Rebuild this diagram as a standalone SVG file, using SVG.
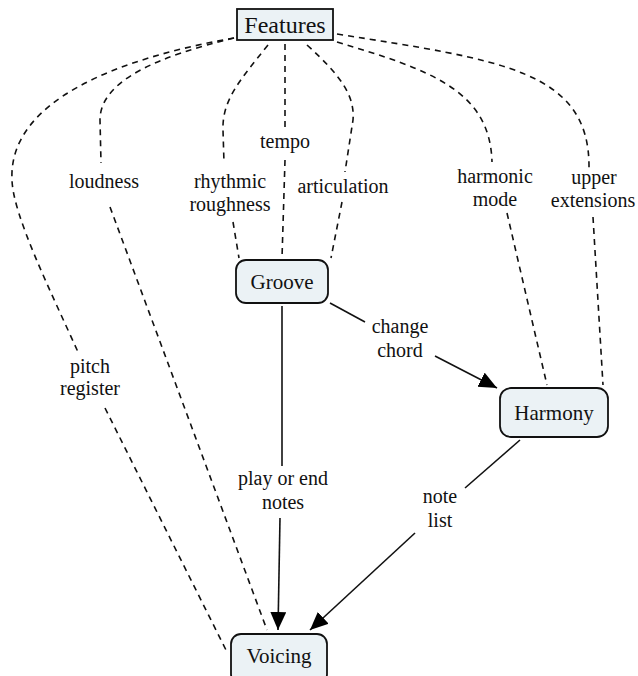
<svg xmlns="http://www.w3.org/2000/svg" width="638" height="676" viewBox="0 0 638 676">
<style>
.lbl{font-family:"Liberation Serif","Times New Roman",serif;font-size:20px;fill:#111;text-anchor:middle}
.nt{font-family:"Liberation Serif","Times New Roman",serif;font-size:21px;fill:#111;text-anchor:middle}
.node{fill:#ebf2f5;stroke:#111;stroke-width:1.8}
.dash{fill:none;stroke:#111;stroke-width:1.6;stroke-dasharray:6 5}
.solid{fill:none;stroke:#111;stroke-width:1.6}
</style>
<defs>
<marker id="ah" markerWidth="20" markerHeight="18" refX="18" refY="8" orient="auto" markerUnits="userSpaceOnUse">
<path d="M0,0 L18,8 L0,16 z" fill="#000"/>
</marker>
</defs>
<rect width="638" height="676" fill="#fff"/>
<g id="connectors">
<path class="dash" d="M234,38 C120,58 8,100 12,180 C13,215 50,290 78,352"/>
<path class="dash" d="M105,408 L226,650"/>
<path class="dash" d="M234,38 C160,56 100,80 100,120 L101,163"/>
<path class="dash" d="M110,207 L267,630"/>
<path class="dash" d="M268,45 C240,80 222,100 223,130 L224,163"/>
<path class="dash" d="M233,222 L239,258"/>
<path class="dash" d="M285,44 L285,130"/>
<path class="dash" d="M285,160 L282,258"/>
<path class="dash" d="M307,45 C340,75 355,95 353,120 L345,172"/>
<path class="dash" d="M342,202 L331,258"/>
<path class="dash" d="M337,42 C430,70 490,90 492,162"/>
<path class="dash" d="M507,213 L547,385"/>
<path class="dash" d="M337,34 C500,60 590,70 589,168"/>
<path class="dash" d="M593,217 L603,385"/>
<path class="solid" d="M330,303 L365,322"/>
<path class="solid" d="M435,356 L497,388" marker-end="url(#ah)"/>
<path class="solid" d="M282,306 L282,466"/>
<path class="solid" d="M280,518 L278,630" marker-end="url(#ah)"/>
<path class="solid" d="M520,440 L465,488"/>
<path class="solid" d="M415,533 L310,630" marker-end="url(#ah)"/>
<text class="lbl" x="90" y="373">pitch</text>
<text class="lbl" x="90" y="395">register</text>
<text class="lbl" x="104" y="188">loudness</text>
<text class="lbl" x="230" y="188">rhythmic</text>
<text class="lbl" x="230" y="211">roughness</text>
<text class="lbl" x="285" y="148">tempo</text>
<text class="lbl" x="343" y="193">articulation</text>
<text class="lbl" x="495" y="183">harmonic</text>
<text class="lbl" x="495" y="206">mode</text>
<text class="lbl" x="594" y="184">upper</text>
<text class="lbl" x="593" y="207">extensions</text>
<text class="lbl" x="400" y="333">change</text>
<text class="lbl" x="400" y="357">chord</text>
<text class="lbl" x="283" y="485">play or end</text>
<text class="lbl" x="283" y="509">notes</text>
<text class="lbl" x="440" y="503">note</text>
<text class="lbl" x="440" y="527">list</text>
</g>
<g id="features">
<rect x="237" y="9" width="96" height="31" fill="#ebf2f5" stroke="#111" stroke-width="1.8"/>
<text x="285" y="33" font-family="Liberation Serif, Times New Roman, serif" font-size="24" fill="#111" text-anchor="middle">Features</text>
</g>
<g id="groove">
<rect class="node" x="236" y="260" width="92" height="43" rx="10"/>
<text class="nt" x="282" y="289">Groove</text>
</g>
<g id="harmony">
<rect class="node" x="500" y="388" width="108" height="49" rx="11"/>
<text class="nt" x="554" y="420">Harmony</text>
</g>
<g id="voicing">
<rect class="node" x="231" y="634" width="96" height="50" rx="10"/>
<text class="nt" x="279" y="663">Voicing</text>
</g>
</svg>
